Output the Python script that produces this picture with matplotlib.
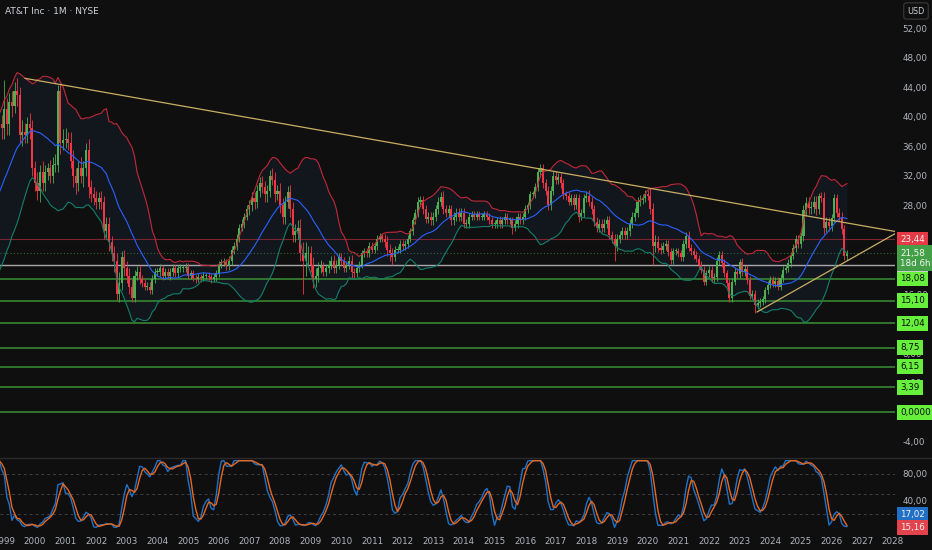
import numpy as np
import pandas as pd
import matplotlib
matplotlib.use("Agg")
import matplotlib.pyplot as plt
from matplotlib.transforms import blended_transform_factory
from matplotlib.lines import Line2D

# ---------------- data (monthly, starting Jan 1996) ----------------
start_year = 1996
closes = [
    # 1996
    20.0, 20.5, 19.5, 19.0, 19.5, 19.0, 20.0, 19.5, 19.5, 21.0, 21.5, 20.5,
    # 1997
    21.0, 20.5, 20.0, 21.5, 22.0, 23.0, 24.0, 24.0, 26.0, 27.0, 28.0, 28.0,
    # 1998
    29.0, 30.0, 31.0, 31.0, 32.0, 33.0, 34.0, 36.0, 38.0, 38.0, 39.0, 38.5,
    # 1999
    41.0, 39.0, 42.0, 41.5, 43.5, 43.0, 37.5, 38.0, 37.5, 39.0, 38.5, 33.0,
    # 2000
    31.0, 30.0, 32.5, 31.0, 32.5, 33.0, 32.0, 33.5, 33.5, 43.5, 36.5, 36.8,
    # 2001
    37.0, 36.5, 34.0, 32.0, 31.0, 33.0, 32.0, 33.0, 35.5, 30.5, 29.5, 29.0,
    # 2002
    28.5, 29.0, 28.5, 24.5, 25.5, 23.0, 21.5, 20.5, 16.0, 17.5, 21.0, 19.5,
    # 2003
    18.5, 17.0, 15.5, 18.5, 19.0, 18.0, 17.5, 17.0, 17.0, 16.5, 18.0, 19.0,
    # 2004
    19.0, 19.5, 18.5, 19.0, 18.5, 19.0, 19.5, 18.8, 19.5, 19.5, 19.5, 19.7,
    # 2005
    18.5, 18.8, 18.2, 18.0, 18.3, 18.2, 18.5, 18.5, 18.3, 18.0, 18.3, 18.8,
    # 2006
    20.0, 20.3, 20.3, 19.8, 20.5, 22.0, 22.5, 23.5, 25.0, 25.5, 26.5, 27.5,
    # 2007
    28.0, 29.0, 28.5, 30.0, 31.0, 30.5, 29.5, 30.0, 32.0, 31.5, 29.5, 30.0,
    # 2008
    28.0, 26.5, 28.5, 29.8, 27.5, 24.0, 24.5, 25.0, 21.5, 20.5, 21.5, 21.5,
    # 2009
    20.0, 18.0, 18.5, 19.5, 19.8, 19.0, 19.5, 20.0, 20.5, 19.5, 20.0, 21.0,
    # 2010
    20.5, 19.5, 20.0, 20.5, 19.0, 18.8, 19.5, 20.0, 21.5, 21.8, 21.5, 22.5,
    # 2011
    22.0, 22.5, 23.5, 23.8, 23.5, 23.0, 22.0, 21.5, 21.0, 22.0, 22.0, 22.8,
    # 2012
    22.5, 22.8, 23.5, 24.5, 26.0, 27.0, 28.5, 28.7, 27.5, 26.2, 26.5, 26.0,
    # 2013
    26.5, 27.5, 28.5, 29.2, 27.5, 27.0, 27.5, 26.0, 26.5, 27.0, 26.5, 27.0,
    # 2014
    25.5, 25.5, 26.5, 26.7, 26.5, 26.8, 26.5, 26.5, 26.8, 26.5, 26.0, 25.5,
    # 2015
    25.5, 26.0, 25.5, 26.0, 26.5, 26.0, 26.0, 25.0, 25.5, 26.5, 26.0, 26.5,
    # 2016
    27.5, 28.0, 29.5, 29.5, 30.5, 32.5, 33.0, 31.0, 30.0, 28.0, 30.0, 32.0,
    # 2017
    31.5, 31.8, 31.0, 29.5, 29.3, 28.5, 29.0, 28.0, 29.0, 26.5, 27.0, 29.0,
    # 2018
    29.3, 28.5, 27.5, 25.8, 25.0, 25.5, 25.0, 25.5, 26.0, 24.0, 23.5, 22.5,
    # 2019
    23.5, 24.0, 24.5, 24.0, 24.5, 25.5, 26.5, 27.0, 28.5, 28.8, 29.0, 29.5,
    # 2020
    29.3, 27.5, 22.5, 23.0, 22.3, 22.0, 22.5, 22.8, 21.7, 20.6, 21.8, 21.8,
    # 2021
    21.5, 21.0, 22.8, 23.8, 22.3, 21.8, 21.3, 20.8, 20.0, 19.3, 17.7, 18.8,
    # 2022
    19.3, 18.2, 18.3, 20.5, 21.3, 20.2, 18.8, 17.5, 15.5, 17.7, 19.0, 18.7,
    # 2023
    20.3, 19.0, 19.4, 17.9, 15.8, 16.0, 14.5, 14.8, 15.0, 15.3, 16.5, 17.3,
    # 2024
    17.9, 17.4, 17.8, 17.0, 18.2, 19.3, 19.5, 20.2, 21.2, 22.3, 23.4, 22.8,
    # 2025
    23.8, 27.4, 28.3, 27.7, 27.8, 28.5, 27.5, 29.3, 29.0, 25.0, 25.8, 25.2,
    # 2026
    26.3, 29.0, 27.0, 26.5, 24.8, 21.2, 21.58,
]

wick_hi = [
    .4, .4, .5, .4, .4, .5, .4, .4, .5, .4, .5, .5,
    .5, .5, .6, .5, .6, .6, .7, .8, .6, .7, .8, .7,
    .8, .8, .9, 1, 1, 1, 1.2, 1, 1.2, 1.5, 1.5, 1.2,
    4, 1.5, 1.2, 1.5, 1.2, 1.8, 1, 1.5, 1.2, 1, 1.5, 1,
    1, 1.5, 1, 1.5, 1, .8, 1.2, 1, 1.5, .8, 1, 1.5,
    1.5, 1, 1.5, 1.5, 1, 1, 1.5, 1, 1, 1.5, 1, 1,
    1, .8, 1, .8, 1, 1, .8, 1, 1, 1.5, .8, 1,
    1, 1, 1, .8, .8, 1, .6, .6, .6, .6, .6, .6,
    .5, .6, .5, .6, .5, .5, .6, .5, .5, .6, .5, .5,
    .5, .4, .5, .4, .5, .4, .5, .4, .5, .4, .5, .4,
    .5, .5, .6, .5, .6, .5, .5, .6, .5, .6, .5, .6,
    .8, .8, .8, .8, .8, 1, .8, .8, .8, 1, 1, .8,
    1, 1, .8, .8, 1, 1, 1, 1, 1.2, 1.5, 1.5, 1,
    1, 1, 1, .8, .8, .6, .6, .6, .6, .8, .6, .6,
    .6, .5, .5, .6, .8, .6, .5, .5, .5, .5, .5, .5,
    .5, .5, .5, .5, .5, .6, .8, .8, .8, .5, .5, .5,
    .5, .5, .5, .5, .5, .5, .6, .6, .6, .6, .6, .6,
    .6, .6, .6, .6, .8, .6, .6, .6, .6, .6, .6, .6,
    .6, .6, .5, .5, .5, .5, .5, .5, .5, .5, .5, .5,
    .5, .5, .6, .5, .5, .5, .5, .5, .5, .5, .5, .5,
    .5, .5, .5, .5, .5, .6, .6, .6, .6, .6, .6, .6,
    .6, .6, .6, .6, .5, .5, .5, .6, .5, .6, .5, .5,
    .6, .8, .6, .6, .6, .6, .6, .6, .6, .6, .6, .6,
    .6, .6, .6, .6, .6, .6, .6, .6, .6, .6, .6, .6,
    .6, 1, .8, 1, .8, .6, .5, .5, .5, .5, .5, .5,
    .5, .5, .5, .6, .8, .5, .5, .5, .5, .5, .5, .5,
    .5, .5, .5, .5, .6, .5, .5, .5, .6, .5, .5, .5,
    .5, .6, .5, .5, .5, .5, .5, .5, .5, .5, .5, .5,
    .5, .5, .5, .5, .5, .5, .5, .5, .5, .5, .6, .6,
    .6, .6, .8, .8, .8, .8, .8, .4, .5, .8, .6, .6,
    .6, .6, .5, .6, .6, .6, .4,
]

wick_lo = [
    .4, .5, .4, .4, .5, .4, .4, .5, .4, .4, .5, .4,
    .5, .5, .5, .6, .5, .6, .6, .7, .6, .7, .7, .8,
    .8, .9, .8, 1, 1, 1, 1, 1.2, 1.5, 1.5, 1.2, 1.5,
    1.5, 1.5, 1.5, 1.5, 1, 1.5, 1, 1.5, 1, 1, 1.5, 1,
    1, 1.3, 1.5, 1, 1, 1, 1, 1, 1, 1, 1.5, 1,
    1, 1, 1, 1.5, 1.5, 1, 1, 1.5, 1, 1.5, 1, 1,
    1, 1, 1, 1, 1, 1.2, 1, 1.5, .8, 1, 1, 1,
    1, 1, .6, .6, .6, .6, .6, .5, .5, .5, .5, .5,
    .5, .5, .6, .5, .5, .6, .5, .5, .5, .5, .5, .5,
    .4, .5, .4, .5, .4, .5, .4, .5, .4, .5, .4, .5,
    .5, .5, .5, .6, .5, .5, .6, .5, .5, .5, .5, .5,
    .8, .8, 1, .8, .8, .8, 1, 1, .8, .8, 1, .8,
    1, 1, 1, .8, 1, 1, 1, 1, 1, 4.5, 2, 1.5,
    1, 1.2, 1, .8, .6, .6, .6, .6, .6, .6, .6, .6,
    .6, .5, .5, .6, .8, .6, .5, .5, .5, .5, .5, .5,
    .5, .5, .5, .5, .5, .6, .8, 1, 1, .5, .5, .5,
    .5, .5, .5, .5, .5, .5, .5, .6, .6, .6, .6, .6,
    .6, .6, .6, .6, .6, .6, .6, .6, .6, .6, .6, .6,
    .6, .6, .5, .5, .5, .5, .5, .5, .5, .5, .5, .5,
    .5, .5, .5, .5, .5, .5, .5, .8, .5, .5, .5, .5,
    .5, .5, .5, .5, .5, .5, .6, .6, .6, .6, .6, .6,
    .6, .6, .6, .6, .5, .5, .5, .6, .5, .7, .5, .5,
    .6, .6, .6, .6, .6, .6, .6, .6, .6, .6, .6, 2,
    .6, .6, .6, .6, .6, .6, .6, .6, .6, .6, .6, .6,
    .6, .6, 2.5, .8, .6, .6, .5, .5, .5, .5, .5, .5,
    .5, .5, .5, .6, .5, .5, .5, .5, .5, .5, .5, .5,
    .5, .5, .5, .5, .5, .5, .5, .5, .6, .5, .5, .5,
    .5, .6, .5, .5, .5, .5, 1, .5, .5, .5, .5, .5,
    .5, .5, .5, .5, .5, .5, .5, .5, .5, .5, .6, .6,
    .6, .6, .8, .8, .8, .8, .8, .6, .5, .8, .6, .6,
    .6, .6, .5, .6, .6, .6, .6,
]

# horizontal levels and their axis labels
green_levels = [18.08, 15.10, 12.04, 8.75, 6.15, 3.39, 0.0]
green_labels = ["18,08", "15,10", "12,04", "8,75", "6,15", "3,39", "0,0000"]
red_level, red_label = 23.44, "23,44"
gray_level, gray_label = 19.96, "19,96"
last_label = "21,58\n18d 6h"
stoch_k_value, stoch_k_label = 17.02, "17,02"
stoch_d_value, stoch_d_label = 15.16, "15,16"

# drawn trend lines (year, price)
trend_down_x, trend_down_y = [1999.68, 2028.17], [45.2, 24.41]
trend_up_x, trend_up_y = [2023.57, 2028.17], [13.59, 24.41]

year_ticks = list(range(1999, 2029))
price_ticks = list(range(-4, 53, 4))
hidden_price_ticks = [0, 12, 20]   # fully covered by level tags in the reference

# ---------------- computation ----------------
c = np.array(closes, dtype=float)
n = len(c)
assert len(wick_hi) == n and len(wick_lo) == n
t = start_year + np.arange(n) / 12.0
o = np.r_[c[0], c[:-1]]
hi = np.maximum(o, c) + np.array(wick_hi)
lo = np.minimum(o, c) - np.array(wick_lo)
up_mask = c >= o

s = pd.Series(c)
mid = s.rolling(20).mean()
sd = s.rolling(20).std(ddof=0)
bb_up = mid + 2 * sd
bb_dn = mid - 2 * sd

delta = s.diff()
gain = delta.clip(lower=0)
loss = -delta.clip(upper=0)
ag = gain.ewm(alpha=1 / 14, adjust=False).mean()
al = loss.ewm(alpha=1 / 14, adjust=False).mean()
rsi = 100 - 100 / (1 + ag / al)
lowest = rsi.rolling(14).min()
highest = rsi.rolling(14).max()
stoch = 100 * (rsi - lowest) / (highest - lowest)
k = stoch.rolling(3).mean()
d = k.rolling(3).mean()

# ---------------- drawing ----------------
BG = "#0f0f0f"
TXT = "#b2b5be"
UP = "#4caf50"
DN = "#f23645"
W, H = 932, 550

fig = plt.figure(figsize=(W / 100, H / 100), dpi=100, facecolor=BG)
ax = fig.add_axes([0, 93 / H, 895 / W, 457 / H])
ax2 = fig.add_axes([0, 19 / H, 895 / W, 73 / H])
for a in (ax, ax2):
    a.set_facecolor(BG)
    for sp in a.spines.values():
        sp.set_visible(False)
    a.set_xlim(1998.86, 2028.07)

ax.set_ylim(-6.04, 55.8)

# Bollinger fill
ax.fill_between(t, bb_dn, bb_up, color="#1a2a44", alpha=0.28, lw=0, zorder=0.5)

# level lines
for lv in green_levels:
    ax.axhline(lv, color="#3b8f35", lw=1.1, zorder=1)
ax.axhline(red_level, color="#7a2530", lw=0.8, zorder=1)
ax.axhline(gray_level, color="#a9a9a9", lw=1.0, zorder=1)
ax.axhline(c[-1], color="#2f6b35", lw=0.8, ls=(0, (1, 2)), zorder=1)

# candles
cols = np.where(up_mask, UP, DN)
ax.vlines(t, lo, hi, colors=cols, lw=0.6, zorder=2)
body = np.where(np.abs(c - o) < 0.12, 0.12, np.abs(c - o))
ax.bar(t, body, bottom=np.minimum(o, c), width=0.8 / 12, color=cols, lw=0, zorder=2.1)

# Bollinger lines
ax.plot(t, bb_up, color="#c2283a", lw=0.8, zorder=3)
ax.plot(t, mid, color="#2962ff", lw=0.8, zorder=3)
ax.plot(t, bb_dn, color="#12806a", lw=0.8, zorder=3)

# trend lines
ax.plot(trend_down_x, trend_down_y, color="#c9ae62", lw=0.9, zorder=4)
ax.plot(trend_up_x, trend_up_y, color="#c9ae62", lw=0.9, zorder=4)

# price axis
ax.yaxis.tick_right()
ax.set_yticks(price_ticks)
ax.set_yticklabels(["" if v in hidden_price_ticks else f"{v:.2f}".replace(".", ",")
                    for v in price_ticks])
ax.tick_params(axis="y", length=0, pad=5.5, labelsize=6.3, labelcolor=TXT)
ax.set_xticks([])

tr = blended_transform_factory(ax.transAxes, ax.transData)


def tag(axis, trans, y, text, fc, tc, fs=6.3):
    axis.text(1.006, y, text, transform=trans, ha="left", va="center",
              fontsize=fs, color=tc, zorder=10, clip_on=False, linespacing=1.25,
              bbox=dict(boxstyle="square,pad=0.35", fc=fc, ec="none"))


for lv, lb in zip(green_levels, green_labels):
    tag(ax, tr, lv, lb, "#66f03c", "#0a0a0a")
tag(ax, tr, red_level, red_label, "#e53945", "#f5f5f5")
tag(ax, tr, gray_level, gray_label, "#c9cec9", "#1a1a1a")
tag(ax, tr, c[-1] - 0.75, last_label, "#43a047", "#f5f5f5")

# Stoch RSI pane
ax2.set_ylim(-5.5, 104)
for lv in (80, 50, 20):
    ax2.axhline(lv, color="#3c3f47", lw=0.7, ls=(0, (3, 3)), zorder=1)
ax2.plot(t, k, color="#1f72c9", lw=1.0, zorder=3)
ax2.plot(t, d, color="#e8671c", lw=1.0, zorder=3)
ax2.yaxis.tick_right()
ax2.set_yticks([40, 80])
ax2.set_yticklabels(["40,00", "80,00"])
ax2.tick_params(axis="y", length=0, pad=5.5, labelsize=6.3, labelcolor=TXT)
ax2.set_xticks(year_ticks)
ax2.set_xticklabels([str(y) for y in year_ticks])
ax2.tick_params(axis="x", length=0, pad=4, labelsize=6.3, labelcolor=TXT)
tr2 = blended_transform_factory(ax2.transAxes, ax2.transData)
# the two tags are stacked (as in the reference) so they do not cover each other
tag(ax2, tr2, stoch_k_value + 1.5, stoch_k_label, "#2070c8", "#f0f0f0")
tag(ax2, tr2, stoch_d_value - 16.0, stoch_d_label, "#e3434d", "#f0f0f0")

# pane separator
fig.add_artist(Line2D([0, 1], [1 - 457.5 / H, 1 - 457.5 / H], transform=fig.transFigure,
                      color="#2a2a2a", lw=1.0))

# header
fig.text(5 / W, 1 - 11 / H, "AT&T Inc · 1M · NYSE", fontsize=6.5, color="#d1d4dc",
         ha="left", va="center")
fig.text(916 / W, 1 - 11 / H, "USD", fontsize=5.8, color="#d1d4dc", ha="center", va="center",
         bbox=dict(boxstyle="round,pad=0.45,rounding_size=0.3", fc=BG, ec="#3a3a3a", lw=0.8))

fig.savefig("out.png", dpi=100, facecolor=BG)
